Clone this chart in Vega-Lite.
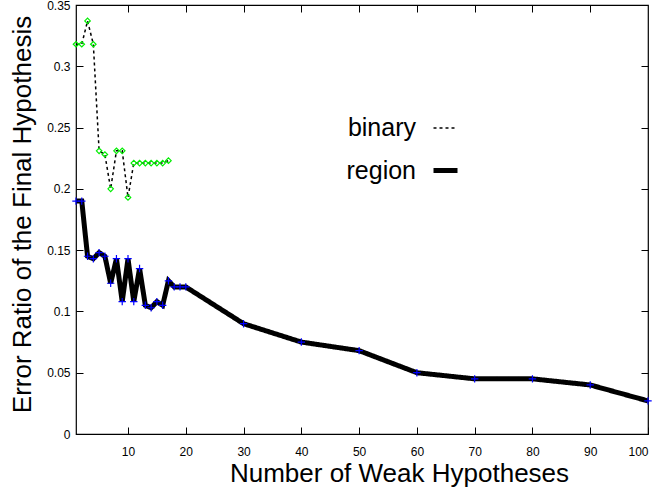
{
  "$schema": "https://vega.github.io/schema/vega-lite/v6.json",
  "width": 572,
  "height": 429,
  "autosize": "none",
  "padding": {"left": 76, "top": 5, "right": 8, "bottom": 63},
  "background": "white",
  "config": {
    "font": "Liberation Sans",
    "view": {"stroke": "black", "strokeWidth": 1.2},
    "axis": {"grid": false, "domain": false, "tickColor": "black", "labelColor": "black", "titleColor": "black", "labelFont": "Liberation Sans", "titleFont": "Liberation Sans", "titleFontWeight": "normal", "labelFontSize": 12, "tickSize": -7, "tickWidth": 1}
  },
  "datasets": {
    "binary": [
      {"n": 1, "err": 0.318, "series": "binary"},
      {"n": 2, "err": 0.318, "series": "binary"},
      {"n": 3, "err": 0.337, "series": "binary"},
      {"n": 4, "err": 0.318, "series": "binary"},
      {"n": 5, "err": 0.231, "series": "binary"},
      {"n": 6, "err": 0.228, "series": "binary"},
      {"n": 7, "err": 0.2, "series": "binary"},
      {"n": 8, "err": 0.231, "series": "binary"},
      {"n": 9, "err": 0.231, "series": "binary"},
      {"n": 10, "err": 0.193, "series": "binary"},
      {"n": 11, "err": 0.221, "series": "binary"},
      {"n": 12, "err": 0.221, "series": "binary"},
      {"n": 13, "err": 0.221, "series": "binary"},
      {"n": 14, "err": 0.221, "series": "binary"},
      {"n": 15, "err": 0.221, "series": "binary"},
      {"n": 16, "err": 0.221, "series": "binary"},
      {"n": 17, "err": 0.223, "series": "binary"}
    ],
    "region": [
      {"n": 1, "err": 0.19, "series": "region"},
      {"n": 2, "err": 0.19, "series": "region"},
      {"n": 3, "err": 0.145, "series": "region"},
      {"n": 4, "err": 0.143, "series": "region"},
      {"n": 5, "err": 0.148, "series": "region"},
      {"n": 6, "err": 0.145, "series": "region"},
      {"n": 7, "err": 0.123, "series": "region"},
      {"n": 8, "err": 0.143, "series": "region"},
      {"n": 9, "err": 0.108, "series": "region"},
      {"n": 10, "err": 0.143, "series": "region"},
      {"n": 11, "err": 0.108, "series": "region"},
      {"n": 12, "err": 0.135, "series": "region"},
      {"n": 13, "err": 0.105, "series": "region"},
      {"n": 14, "err": 0.103, "series": "region"},
      {"n": 15, "err": 0.108, "series": "region"},
      {"n": 16, "err": 0.105, "series": "region"},
      {"n": 17, "err": 0.125, "series": "region"},
      {"n": 18, "err": 0.12, "series": "region"},
      {"n": 19, "err": 0.12, "series": "region"},
      {"n": 20, "err": 0.12, "series": "region"},
      {"n": 30, "err": 0.09, "series": "region"},
      {"n": 40, "err": 0.075, "series": "region"},
      {"n": 50, "err": 0.068, "series": "region"},
      {"n": 60, "err": 0.05, "series": "region"},
      {"n": 70, "err": 0.045, "series": "region"},
      {"n": 80, "err": 0.045, "series": "region"},
      {"n": 90, "err": 0.04, "series": "region"},
      {"n": 100, "err": 0.027, "series": "region"}
    ]
  },
  "resolve": {"axis": {"x": "independent", "y": "independent"}},
  "layer": [
    {
      "data": {"name": "region"},
      "mark": {"type": "line", "strokeCap": "butt", "strokeJoin": "miter", "clip": true},
      "encoding": {
        "x": {"field": "n", "type": "quantitative", "scale": {"domain": [1, 100], "nice": false, "zero": false},
          "axis": {"values": [10, 20, 30, 40, 50, 60, 70, 80, 90, 100], "title": "Number of Weak Hypotheses", "titleFontSize": 26, "titlePadding": 3, "titleX": 323, "labelPadding": 19}},
        "y": {"field": "err", "type": "quantitative", "scale": {"domain": [0, 0.35], "nice": false},
          "axis": {"values": [0, 0.05, 0.1, 0.15, 0.2, 0.25, 0.3, 0.35], "format": ".2~f", "title": "Error Ratio of the Final Hypothesis", "titleFontSize": 26, "titlePadding": 11, "titleY": 209, "labelPadding": 13}},
        "color": {"field": "series", "type": "nominal", "scale": {"domain": ["binary", "region"], "range": ["black", "black"]},
          "legend": {"orient": "none", "legendX": 245, "legendY": 110, "title": null, "symbolType": "stroke", "symbolSize": 576, "symbolOffset": 110, "labelAlign": "right", "labelOffset": -44, "labelFontSize": 25, "labelFont": "Liberation Sans", "labelColor": "black", "rowPadding": 15, "labelLimit": 300}},
        "strokeDash": {"field": "series", "type": "nominal", "scale": {"domain": ["binary", "region"], "range": [[3, 3], [1, 0]]}},
        "strokeWidth": {"field": "series", "type": "nominal", "scale": {"domain": ["binary", "region"], "range": [1.5, 5]}}
      }
    },
    {
      "data": {"name": "region"},
      "mark": {"type": "point", "shape": "M-1,0H1M0,-1V1", "filled": false, "stroke": "#0000ff", "strokeWidth": 1.2, "size": 55, "opacity": 1},
      "encoding": {
        "x": {"field": "n", "type": "quantitative", "axis": {"orient": "top", "labels": false, "title": null, "values": [10, 20, 30, 40, 50, 60, 70, 80, 90]}},
        "y": {"field": "err", "type": "quantitative", "axis": {"orient": "right", "labels": false, "title": null, "values": [0.05, 0.1, 0.15, 0.2, 0.25, 0.3]}}
      }
    },
    {
      "data": {"name": "binary"},
      "mark": {"type": "line", "clip": true},
      "encoding": {
        "x": {"field": "n", "type": "quantitative", "axis": null},
        "y": {"field": "err", "type": "quantitative", "axis": null},
        "color": {"field": "series", "type": "nominal"},
        "strokeDash": {"field": "series", "type": "nominal"},
        "strokeWidth": {"field": "series", "type": "nominal"}
      }
    },
    {
      "data": {"name": "binary"},
      "mark": {"type": "point", "shape": "diamond", "filled": false, "stroke": "#00ee00", "strokeWidth": 1.2, "size": 30, "opacity": 1},
      "encoding": {
        "x": {"field": "n", "type": "quantitative", "axis": null},
        "y": {"field": "err", "type": "quantitative", "axis": null}
      }
    }
  ]
}
